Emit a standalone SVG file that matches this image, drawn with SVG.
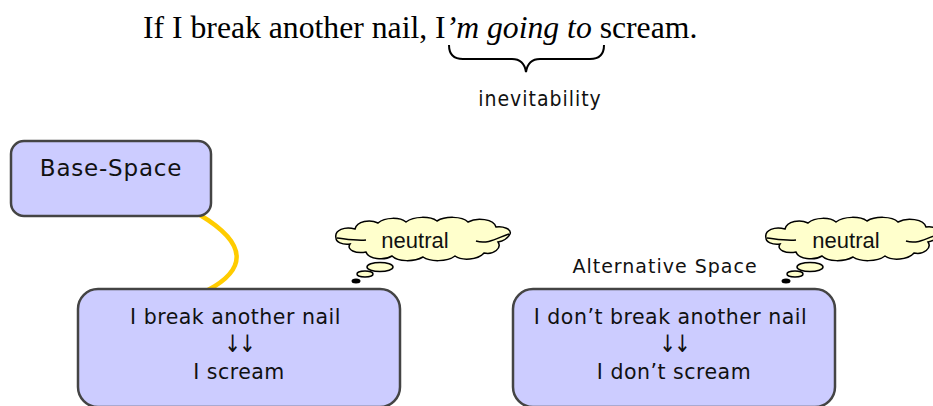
<svg xmlns="http://www.w3.org/2000/svg" width="933" height="406" viewBox="0 0 933 406">
<style>
  .title { font-family: "Liberation Serif", "Times New Roman", serif; font-size: 31.7px; fill: #000; }
  .lbl { font-family: "DejaVu Sans", Verdana, sans-serif; fill: #111; text-anchor: middle; }
  .arr { font-family: "DejaVu Sans", sans-serif; font-size: 20px; fill: #111; text-anchor: middle; }
  .box { fill: #ccccff; stroke: #444; stroke-width: 2.5; }
  .cloud { fill: #ffffcc; stroke: #000; stroke-width: 1.5; }
  .cloudline { fill: none; stroke: #000; stroke-width: 1.5; }
  .ntext { font-family: "Liberation Sans", Arial, sans-serif; font-size: 22px; fill: #111; text-anchor: middle; }
</style>
<defs>
  <g id="cloudShape">
    <path class="cloud" d="M336,238 C334,230 345,226 355,229 C357,221 370,219 378,223 C385,217 400,217 406,222 C414,216 430,216 437,221 C445,216 462,216 468,222 C477,217 494,219 496,227 C503,226 512,229 510,234 C508,238 503,241 498,242 C502,248 494,255 484,253 C478,260 462,261 455,256 C447,262 430,262 423,257 C414,262 398,262 392,256 C384,261 368,259 366,252 C356,254 346,250 350,244 C342,245 336,242 336,238 Z"/>
    <path class="cloudline" d="M337,238 C346,239 356,241 366,240"/>
    <path class="cloudline" d="M476,241 C488,245 499,237 509,234"/>
    <ellipse class="cloud" cx="380" cy="267" rx="13" ry="4.5"/>
    <ellipse class="cloud" cx="365" cy="274" rx="8" ry="3"/>
    <ellipse cx="356" cy="281" rx="4.5" ry="2.5" fill="#000"/>
  </g>
</defs>

<g id="sentence">
  <text class="title" x="143" y="38">If I break another nail, I<tspan font-style="italic">’m going to</tspan> scream.</text>
  <path d="M449,45 Q449,59 463,59 L512,59 Q524,59 526,72 Q528,59 540,59 L590,59 Q604,59 604,45" fill="none" stroke="#000" stroke-width="2"/>
  <text class="lbl" x="540" y="106" font-size="21" letter-spacing="1" style="font-family:'DejaVu Sans Condensed','DejaVu Sans',sans-serif">inevitability</text>
</g>

<g id="connectors">
  <path d="M200,215 C250,245 245,270 208,290" fill="none" stroke="#ffcc00" stroke-width="4.5" stroke-linecap="round"/>
</g>

<g id="base-space">
  <rect class="box" x="11" y="141" width="200" height="75" rx="13"/>
  <text class="lbl" x="111" y="176" font-size="23" letter-spacing="0.8">Base-Space</text>
</g>

<g id="cloud1">
  <use href="#cloudShape"/>
  <text class="ntext" x="415" y="248">neutral</text>
</g>

<g id="cloud2">
  <use href="#cloudShape" transform="translate(430,0)"/>
  <text class="ntext" x="846" y="248">neutral</text>
</g>

<g id="alt-label">
  <text class="lbl" x="665" y="273" font-size="19" letter-spacing="1">Alternative Space</text>
</g>

<g id="node-left">
  <rect class="box" x="78" y="289" width="322" height="118" rx="20"/>
  <text class="lbl" font-size="20.5" letter-spacing="0.5">
    <tspan x="239" y="324">I break another nail</tspan>
    <tspan x="239" y="379">I scream</tspan>
  </text>
  <text class="arr" transform="translate(239,352) scale(1,1.2)" letter-spacing="-2">↓↓</text>
</g>

<g id="node-right">
  <rect class="box" x="513" y="289" width="322" height="118" rx="20"/>
  <text class="lbl" font-size="20.5" letter-spacing="0.5">
    <tspan x="674" y="324">I don’t break another nail</tspan>
    <tspan x="674" y="379">I don’t scream</tspan>
  </text>
  <text class="arr" transform="translate(674,352) scale(1,1.2)" letter-spacing="-2">↓↓</text>
</g>
</svg>
